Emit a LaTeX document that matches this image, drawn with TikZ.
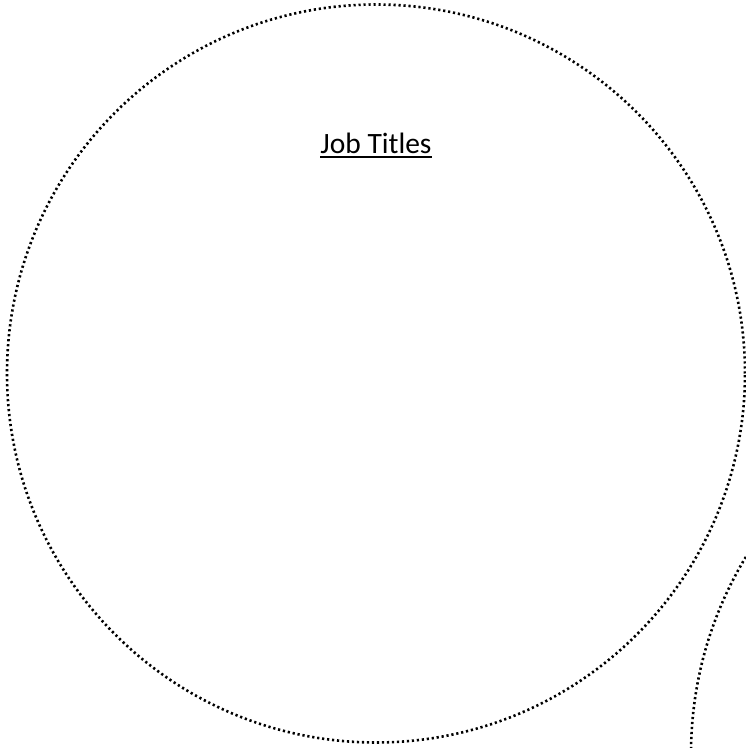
\documentclass[tikz,border=0pt]{standalone}
\usepackage{fontspec}
\setmainfont{Carlito}
\begin{document}
\begin{tikzpicture}[x=1pt,y=1pt,
  dotline/.style={line width=2.6pt, dash pattern=on 2.2pt off 2.8pt, black},
  titletext/.style={font=\fontsize{29.5}{32}\selectfont, anchor=base, inner sep=0pt}]
\useasboundingbox (0,0) rectangle (746,748);
\clip (0,0) rectangle (746,748);
\node[draw, dotline, circle, minimum size=738pt, inner sep=0pt] (big) at (376,374.5) {};
\node[draw, dotline, circle, minimum size=762pt, inner sep=0pt] (second) at (1072,-6) {};
\node[titletext] (title) at (376,594.5) {Job Titles};
\draw[line width=2.2pt] ([yshift=-3.5pt]title.base west) -- ([yshift=-3.5pt]title.base east);
\end{tikzpicture}
\end{document}
